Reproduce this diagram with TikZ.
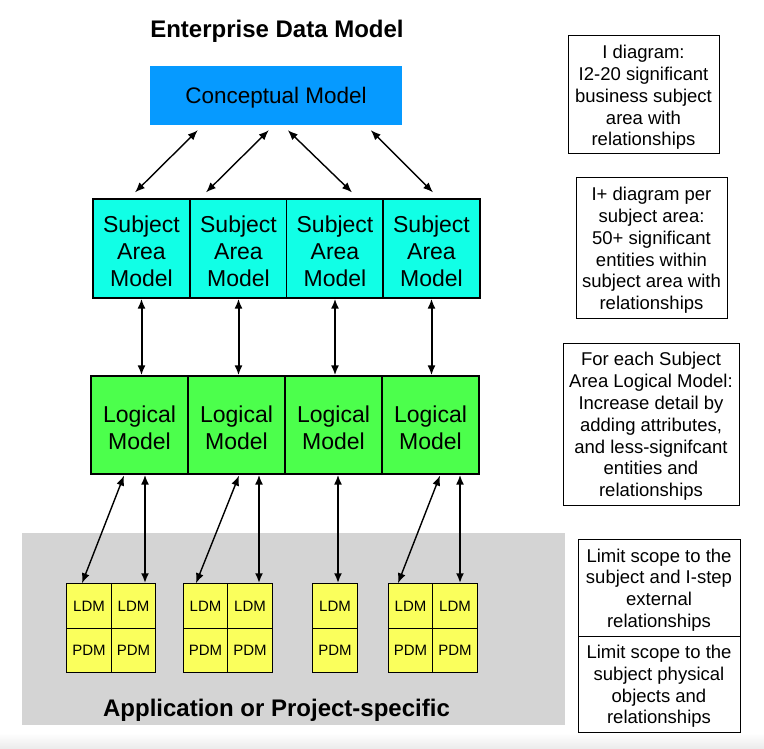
\documentclass[tikz,border=0pt]{standalone}
\usepackage{fontspec}
\setmainfont{Liberation Sans}
\usetikzlibrary{arrows.meta,calc}
\definecolor{cblue}{RGB}{6,154,255}
\definecolor{ccyan}{RGB}{17,255,230}
\definecolor{cgreen}{RGB}{76,255,76}
\definecolor{cyell}{RGB}{250,255,92}
\definecolor{cgray}{RGB}{212,212,212}
\tikzset{
  txA/.style={align=center,inner sep=0pt,yshift=-2.5pt,font=\fontsize{23}{27}\selectfont},
  txN/.style={align=center,inner sep=0pt,yshift=-2.5pt,font=\fontsize{18.5}{21.8}\selectfont},
  box/.style={draw=black,line width=1.2pt,inner sep=0pt},
  subj/.style={box,fill=ccyan,minimum width=97pt,minimum height=99pt,
    label={[txA]center:{Subject\\Area\\Model}}},
  logi/.style={box,fill=cgreen,minimum width=97pt,minimum height=98pt,
    label={[txA]center:{Logical\\Model}}},
  cell/.style={draw=black,line width=1pt,fill=cyell,inner sep=0pt,
    minimum width=44.5pt,minimum height=44.5pt,font=\fontsize{15}{18}\selectfont},
  note/.style={draw=black,line width=1pt,inner sep=0pt},
  darr/.style={{Latex[length=10pt,width=8pt]}-{Latex[length=10pt,width=8pt]},line width=1.4pt},
  varr/.style={{Latex[length=10pt,width=8pt]}-{Latex[length=10pt,width=8pt]},line width=2pt},
}
\begin{document}
\begin{tikzpicture}[x=1pt,y=-1pt]
\useasboundingbox (0,0) rectangle (764,749);
\shade[top color=white,bottom color=black!8] (0,733) rectangle (764,749);
% gray region
\fill[cgray] (22,533) rectangle (565,725);
% title
\node[font=\fontsize{24}{28}\selectfont\bfseries] (title) at (277,31) {Enterprise Data Model};
% conceptual
\node[fill=cblue,minimum width=252pt,minimum height=59pt,inner sep=0pt,
  label={[txA,font=\fontsize{22.5}{27}\selectfont]center:Conceptual Model}] (conc) at (276,95.5) {};
% subject area models
\node[subj] (s1) at (141.5,248.5) {};
\node[subj] (s2) at (238.5,248.5) {};
\node[subj] (s3) at (335,248.5) {};
\node[subj] (s4) at (431.5,248.5) {};
% logical models
\node[logi] (l1) at (139.5,425) {};
\node[logi] (l2) at (236.5,425) {};
\node[logi] (l3) at (333.5,425) {};
\node[logi] (l4) at (430.5,425) {};
% LDM / PDM cells
\node[cell] (g1a) at (89,606) {LDM};
\node[cell] (g1b) at (133.5,606) {LDM};
\node[cell] (g1c) at (89,650.5) {PDM};
\node[cell] (g1d) at (133.5,650.5) {PDM};
\node[cell] (g2a) at (205.5,606) {LDM};
\node[cell] (g2b) at (250,606) {LDM};
\node[cell] (g2c) at (205.5,650.5) {PDM};
\node[cell] (g2d) at (250,650.5) {PDM};
\node[cell,minimum width=45.5pt] (g3a) at (335,606) {LDM};
\node[cell,minimum width=45.5pt] (g3c) at (335,650.5) {PDM};
\node[cell] (g4a) at (410.5,606) {LDM};
\node[cell] (g4b) at (455,606) {LDM};
\node[cell] (g4c) at (410.5,650.5) {PDM};
\node[cell] (g4d) at (455,650.5) {PDM};
% bottom label
\node[font=\fontsize{24}{28}\selectfont\bfseries] (app) at (276.5,710) {Application or Project-specific};
% notes
\node[note,minimum width=151pt,minimum height=118pt,
  label={[txN]center:{I diagram:\\I2-20 significant\\business subject\\area with\\relationships}}] (n1) at (643.5,95) {};
\node[note,minimum width=151pt,minimum height=140pt,
  label={[txN]center:{I+ diagram per\\subject area:\\50+ significant\\entities within\\subject area with\\relationships}}] (n2) at (651.5,248) {};
\node[note,minimum width=176pt,minimum height=162pt,
  label={[txN]center:{For each Subject\\Area Logical Model:\\Increase detail by\\adding attributes,\\and less-signifcant\\entities and\\relationships}}] (n3) at (651,424) {};
\node[note,minimum width=162pt,minimum height=97pt,
  label={[txN]center:{Limit scope to the\\subject and I-step\\external\\relationships}}] (n4) at (659,587.5) {};
\node[note,minimum width=162pt,minimum height=96pt,
  label={[txN]center:{Limit scope to the\\subject physical\\objects and\\relationships}}] (n5) at (659,684) {};
% conceptual -> subject arrows
\draw[darr] ($(conc.south west)+(48,5)$) -- ($(s1.north)+(-6.5,-6)$);
\draw[darr] ($(conc.south west)+(119,5)$) -- ($(s2.north)+(-32.5,-6)$);
\draw[darr] ($(conc.south west)+(138,5)$) -- ($(s3.north)+(17,-6)$);
\draw[darr] ($(conc.south west)+(221,5)$) -- ($(s4.north)+(1.5,-6)$);
% subject -> logical
\draw[varr] (s1.south) -- (s1.south |- l1.north);
\draw[varr] (s2.south) -- (s2.south |- l2.north);
\draw[varr] (s3.south) -- (s3.south |- l3.north);
\draw[varr] (s4.south) -- (s4.south |- l4.north);
% logical -> LDM
\draw[darr] ($(l1.south)+(-15.5,1)$) -- ($(g1a.north)+(-7,0)$);
\draw[varr] ($(l1.south)+(5.5,0)$) -- ($(g1b.north)+(11.5,0)$);
\draw[darr] ($(l2.south)+(2.5,1)$) -- ($(g2a.north)+(-9.5,0)$);
\draw[varr] ($(l2.south)+(22.5,0)$) -- ($(g2b.north)+(9,0)$);
\draw[varr] ($(l3.south)+(4.5,0)$) -- ($(g3a.north)+(3,0)$);
\draw[darr] ($(l4.south)+(9.5,1)$) -- ($(g4a.north)+(-12.5,0)$);
\draw[varr] ($(l4.south)+(29.5,0)$) -- ($(g4b.north)+(5,0)$);
\end{tikzpicture}
\end{document}
